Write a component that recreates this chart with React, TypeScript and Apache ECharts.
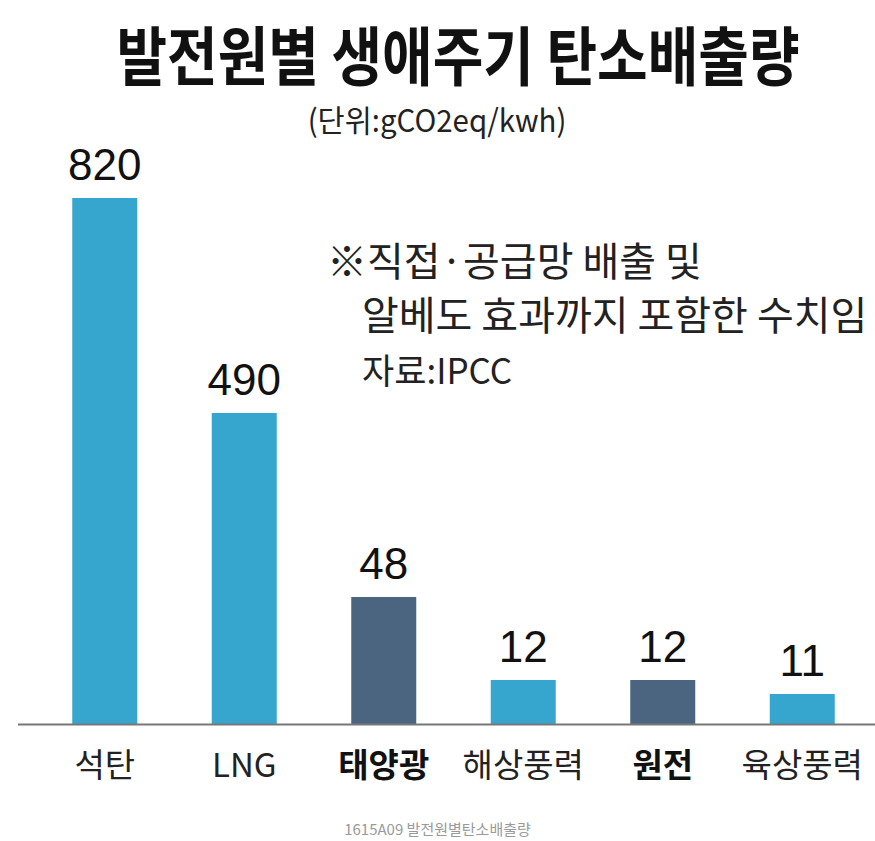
import React, { useEffect, useRef } from "react";
import * as echarts from "echarts";

// Data
const categories = ["석탄", "LNG", "태양광", "해상풍력", "원전", "육상풍력"];
const emissionValues = [820, 490, 48, 12, 12, 11]; // gCO2eq/kwh (shown as labels)
// The reference draws bars on a non-proportional (illustrative) scale;
// these are the bar lengths, in axis units (0–600).
const drawnBarLengths = [526, 311, 127, 44, 44, 30];
const highlighted = [false, false, true, false, true, false];

const titleText = "발전원별 생애주기 탄소배출량";
const unitText = "(단위:gCO2eq/kwh)";
const noteLines = ["※직접·공급망 배출 및", "알베도 효과까지 포함한 수치임", "자료:IPCC"];
const footerText = "1615A09 발전원별탄소배출량";

const LIGHT = "#36a6cf";
const DARK = "#4b6480";
const KFONT = '"Noto Sans CJK KR", "Noto Sans", sans-serif';
const NFONT = '"Liberation Sans Narrow", "Liberation Sans", Arial, sans-serif';

export default function App() {
  const ref = useRef<HTMLDivElement>(null);
  useEffect(() => {
    document.body.style.margin = "0";
    if (!ref.current) return;
    const chart = echarts.init(ref.current, undefined, { renderer: "svg" });
    const option: any = {
      animation: false,
      backgroundColor: "#ffffff",
      grid: { left: 35, right: 3, top: 124, bottom: 117, containLabel: false },
      xAxis: {
        type: "category",
        data: categories,
        axisLine: { show: false },
        axisTick: { show: false },
        axisLabel: {
          interval: 0,
          margin: 22,
          fontSize: 33,
          fontFamily: KFONT,
          color: "#222",
          formatter: (v: string) => {
            const i = categories.indexOf(v);
            return highlighted[i] ? `{b|${v}}` : `{n|${v}}`;
          },
          rich: {
            n: { fontSize: 33, fontFamily: KFONT, color: "#222", fontWeight: "normal" },
            b: { fontSize: 33, fontFamily: KFONT, color: "#111", fontWeight: "bold" },
          },
        },
      },
      yAxis: {
        type: "value",
        min: 0,
        max: 600,
        show: false,
        splitLine: { show: false },
      },
      series: [
        {
          type: "bar",
          barWidth: 65,
          data: drawnBarLengths.map((h, i) => ({
            value: h,
            itemStyle: { color: highlighted[i] ? DARK : LIGHT },
          })),
          label: {
            show: true,
            position: "top",
            distance: 12,
            fontSize: 44,
            fontFamily: NFONT,
            color: "#111",
            formatter: (p: any) => String(emissionValues[p.dataIndex]),
          },
        },
      ],
      graphic: [
        {
          type: "line",
          shape: { x1: 18, y1: 724.5, x2: 875, y2: 724.5 },
          style: { stroke: "#777", lineWidth: 2 },
          z: 10,
        },
        {
          type: "text",
          x: 458,
          y: 52,
          scaleX: 0.86,
          style: {
            text: titleText,
            fontSize: 64,
            fontWeight: "bold",
            fontFamily: KFONT,
            fill: "#111",
            textAlign: "center",
            textVerticalAlign: "middle",
          },
        },
        {
          type: "text",
          x: 437,
          y: 119,
          scaleX: 0.95,
          style: {
            text: unitText,
            fontSize: 31,
            fontFamily: KFONT,
            fill: "#222",
            textAlign: "center",
            textVerticalAlign: "middle",
          },
        },
        {
          type: "text",
          x: 327,
          y: 259,
          style: {
            text: noteLines[0],
            fontSize: 40,
            fontFamily: KFONT,
            fill: "#222",
            textAlign: "left",
            textVerticalAlign: "middle",
          },
        },
        {
          type: "text",
          x: 362,
          y: 313,
          style: {
            text: noteLines[1],
            fontSize: 40,
            fontFamily: KFONT,
            fill: "#222",
            textAlign: "left",
            textVerticalAlign: "middle",
          },
        },
        {
          type: "text",
          x: 362,
          y: 368,
          style: {
            text: noteLines[2],
            fontSize: 35,
            fontFamily: KFONT,
            fill: "#222",
            textAlign: "left",
            textVerticalAlign: "middle",
          },
        },
        {
          type: "text",
          x: 437.5,
          y: 828,
          style: {
            text: footerText,
            fontSize: 15,
            fontFamily: KFONT,
            fill: "#9a9a9a",
            textAlign: "center",
            textVerticalAlign: "middle",
          },
        },
      ],
    };
    chart.setOption(option);
    return () => chart.dispose();
  }, []);
  return <div ref={ref} style={{ width: 875, height: 841 }} />;
}
